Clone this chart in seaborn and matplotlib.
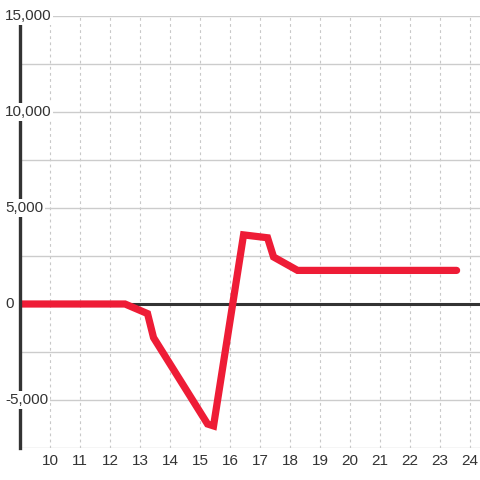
import pandas as pd
import matplotlib.pyplot as plt
import seaborn as sns
from matplotlib.ticker import MultipleLocator

hours = [9.0, 12.5, 13.25, 13.45, 15.25, 15.45, 16.45, 17.25, 17.45, 18.25, 23.55]
values = [0, 0, -500, -1750, -6250, -6350, 3600, 3450, 2450, 1750, 1750]
y_labels = [-5000, 0, 5000, 10000, 15000]
x_ticks = list(range(10, 25))

df = pd.DataFrame({'hour': hours, 'value': values})

sns.set_style('white')
plt.rcParams['font.family'] = ['Liberation Sans', 'DejaVu Sans']

fig = plt.figure(figsize=(4.8, 4.8), dpi=100)
ax = fig.add_axes([20 / 480, 32 / 480, 460 / 480, 432 / 480])

ax.set_xlim(9, 24.33)
ax.set_ylim(-7500, 15000)

# grid
ax.yaxis.set_major_locator(MultipleLocator(2500))
ax.set_xticks(x_ticks)
ax.grid(axis='y', color='#cccccc', linewidth=1)
ax.grid(axis='x', color='#c8c8c8', linewidth=0.8, linestyle=(0, (2.5, 3)))
ax.set_axisbelow(True)

ax.axhline(0, color='#333333', linewidth=2.2, zorder=1.5)

sns.lineplot(data=df, x='hour', y='value', color='#ee1c36', linewidth=5.2,
             ax=ax, zorder=2, solid_joinstyle='miter')

for s in ['top', 'right', 'bottom']:
    ax.spines[s].set_visible(False)
ax.spines['left'].set_color('#333333')
ax.spines['left'].set_linewidth(2.4)

ax.set_yticklabels([])
ax.tick_params(axis='y', length=0)
ax.tick_params(axis='x', length=0, labelsize=11, labelcolor='#333333', pad=4)
ax.set_xlabel('')
ax.set_ylabel('')

for v in y_labels:
    ax.text(-15 / 460, v, f'{v:,}', transform=ax.get_yaxis_transform(),
            ha='left', va='center', fontsize=11, color='#333333', clip_on=False,
            zorder=5, bbox=dict(facecolor='white', edgecolor='none', pad=1.2))

fig.savefig('out.png', dpi=100, facecolor='white')
